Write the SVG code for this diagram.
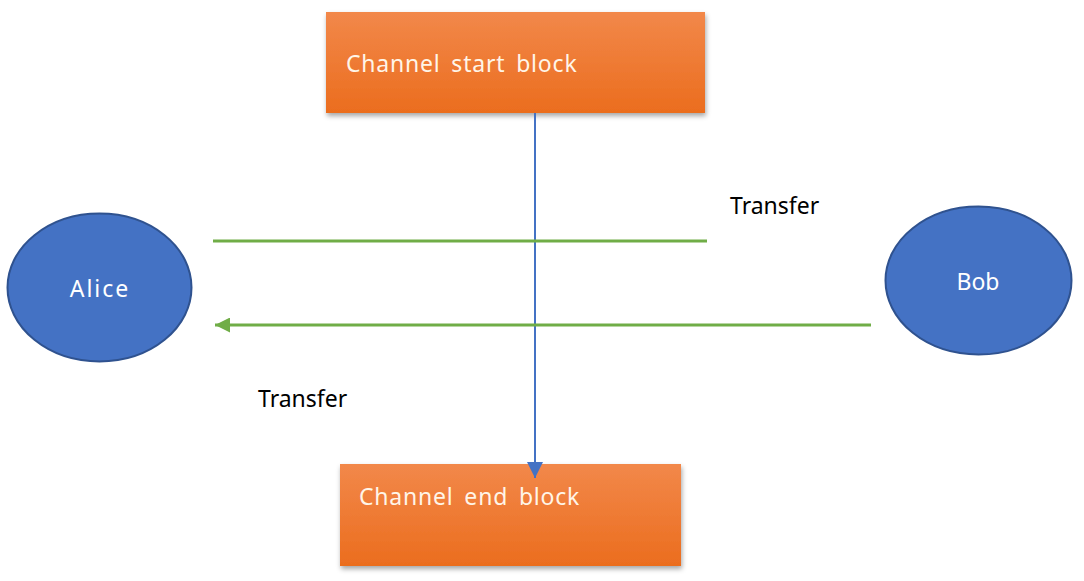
<svg xmlns="http://www.w3.org/2000/svg" width="1084" height="581" viewBox="0 0 1084 581">
<defs>
<linearGradient id="og" x1="0" y1="0" x2="0" y2="1">
<stop offset="0" stop-color="#F2884A"/>
<stop offset="1" stop-color="#EB6D1E"/>
</linearGradient>
<filter id="sh" x="-5%" y="-10%" width="110%" height="130%">
<feDropShadow dx="1" dy="3" stdDeviation="2.5" flood-color="#000" flood-opacity="0.35"/>
</filter>
<marker id="ab" viewBox="0 0 10 10" refX="10" refY="5" markerWidth="8" markerHeight="8" orient="auto" markerUnits="strokeWidth">
<path d="M0,0 L10,5 L0,10 z" fill="#4472C4"/>
</marker>
<marker id="ag" viewBox="0 0 10 10" refX="10" refY="5" markerWidth="5" markerHeight="5" orient="auto" markerUnits="strokeWidth">
<path d="M0,0 L10,5 L0,10 z" fill="#70AD47"/>
</marker>
</defs>
<style>
.box{fill:url(#og);filter:url(#sh)}
.bt{font-family:"Noto Sans","Liberation Sans",sans-serif;font-size:23px;fill:#FFF5E8;letter-spacing:0.8px;word-spacing:4px}
.ell{fill:#4472C4;stroke:#2F528F;stroke-width:2}
.et{font-family:"Noto Sans","Liberation Sans",sans-serif;font-size:23px;fill:#FFFFFF;text-anchor:middle}
.lbl{font-family:"Noto Sans","Liberation Sans",sans-serif;font-size:23px;fill:#000}
.g{stroke:#70AD47;stroke-width:3;fill:none}
</style>
<rect width="1084" height="581" fill="#FFFFFF"/>
<g id="start">
<rect class="box" x="326" y="12" width="379" height="101"/>
<text class="bt" x="346" y="72">Channel start block</text>
</g>
<g id="end">
<rect class="box" x="340" y="464" width="341" height="102"/>
<text class="bt" x="359" y="505">Channel end block</text>
</g>
<g id="alice">
<ellipse class="ell" cx="99.5" cy="287.5" rx="92" ry="74"/>
<text class="et" x="100" y="297" style="letter-spacing:2px">Alice</text>
</g>
<g id="bob">
<ellipse class="ell" cx="978.5" cy="280.5" rx="93" ry="74"/>
<text class="et" x="978" y="290">Bob</text>
</g>
<g id="connectors">
<line x1="535" y1="113" x2="535" y2="478" stroke="#4472C4" stroke-width="2" marker-end="url(#ab)"/>
<line class="g" x1="213" y1="241" x2="707" y2="241"/>
<line class="g" x1="871" y1="325" x2="215" y2="325" marker-end="url(#ag)"/>
</g>
<g id="labels">
<text class="lbl" x="730" y="214">Transfer</text>
<text class="lbl" x="258" y="407">Transfer</text>
</g>
</svg>
